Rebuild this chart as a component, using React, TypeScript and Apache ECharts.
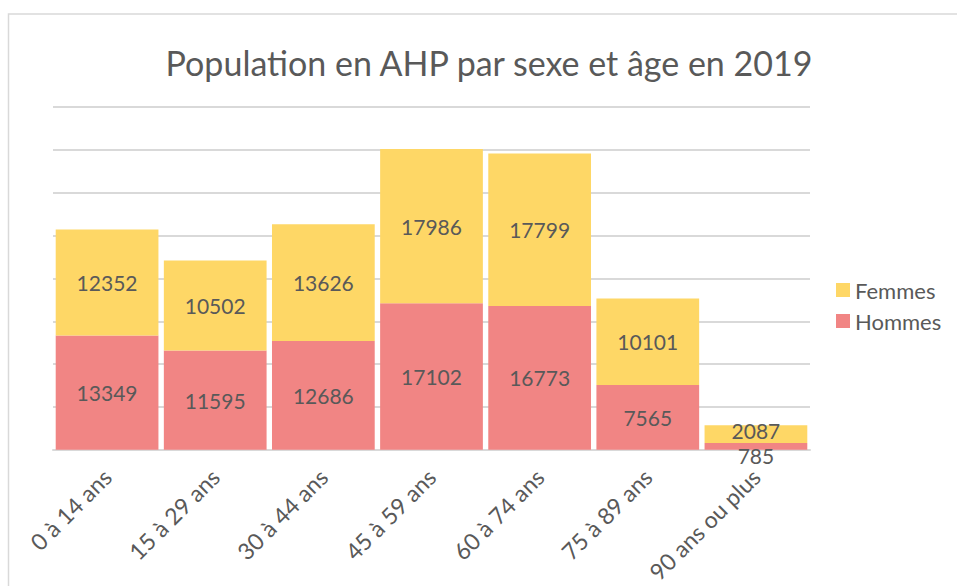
import React, { useEffect, useRef } from "react";
import * as echarts from "echarts";

const categories = ["0 à 14 ans", "15 à 29 ans", "30 à 44 ans", "45 à 59 ans", "60 à 74 ans", "75 à 89 ans", "90 ans ou plus"];
const hommes = [13349, 11595, 12686, 17102, 16773, 7565, 785];
const femmes = [12352, 10502, 13626, 17986, 17799, 10101, 2087];
const titleText = "Population en AHP par sexe et âge en 2019";

const FONT = "Lato, 'Open Sans', sans-serif";
const TXT = "#595959";

export default function App() {
  const ref = useRef<HTMLDivElement>(null);
  useEffect(() => {
    if (!ref.current) return;
    const chart = echarts.init(ref.current, undefined, { renderer: "svg" });
    const last = categories.length - 1;
    const hommesData = hommes.map((v, i) => (i === last ? { value: v, label: { offset: [0, 9] } } : v));
    const femmesData = femmes.map((v, i) => (i === last ? { value: v, label: { offset: [0, -4] } } : v));
    const labelStyle = { show: true, position: "inside", fontFamily: FONT, fontSize: 21, color: TXT };
    chart.setOption({
      animation: false,
      backgroundColor: "#ffffff",
      title: {
        text: titleText,
        left: 484,
        textAlign: "center",
        top: 40,
        textStyle: { fontFamily: FONT, fontSize: 34, fontWeight: "normal", color: TXT },
      },
      graphic: [
        {
          type: "rect",
          shape: { x: 8.5, y: 14, width: 1000, height: 1000 },
          style: { fill: "none", stroke: "#d9d9d9", lineWidth: 1.5 },
          silent: true,
          z: -10,
        },
      ],
      legend: {
        orient: "vertical",
        left: 831,
        top: 274,
        itemWidth: 14,
        itemHeight: 14,
        itemGap: 9,
        icon: "rect",
        data: ["Femmes", "Hommes"],
        textStyle: { fontFamily: FONT, fontSize: 22, color: TXT },
      },
      grid: { left: 53, right: 147, top: 107, bottom: 135 },
      xAxis: {
        type: "category",
        data: categories,
        axisLine: { lineStyle: { color: "#d9d9d9", width: 2 } },
        axisTick: { show: false },
        axisLabel: { rotate: 45, margin: 23, interval: 0, fontFamily: FONT, fontSize: 23, color: TXT },
      },
      yAxis: {
        type: "value",
        min: 0,
        max: 40000,
        interval: 5000,
        axisLabel: { show: false },
        axisLine: { show: false },
        axisTick: { show: false },
        splitLine: { lineStyle: { color: "#d9d9d9", width: 2 } },
      },
      series: [
        {
          name: "Hommes",
          type: "bar",
          stack: "total",
          data: hommesData,
          barCategoryGap: "5%",
          itemStyle: { color: "#F18584" },
          label: labelStyle,
        },
        {
          name: "Femmes",
          type: "bar",
          stack: "total",
          data: femmesData,
          barCategoryGap: "5%",
          itemStyle: { color: "#FED766" },
          label: labelStyle,
        },
      ],
    });
    return () => chart.dispose();
  }, []);
  return (
    <div
      ref={ref}
      style={{ position: "absolute", left: 0, top: 0, width: 957, height: 586 }}
    />
  );
}
